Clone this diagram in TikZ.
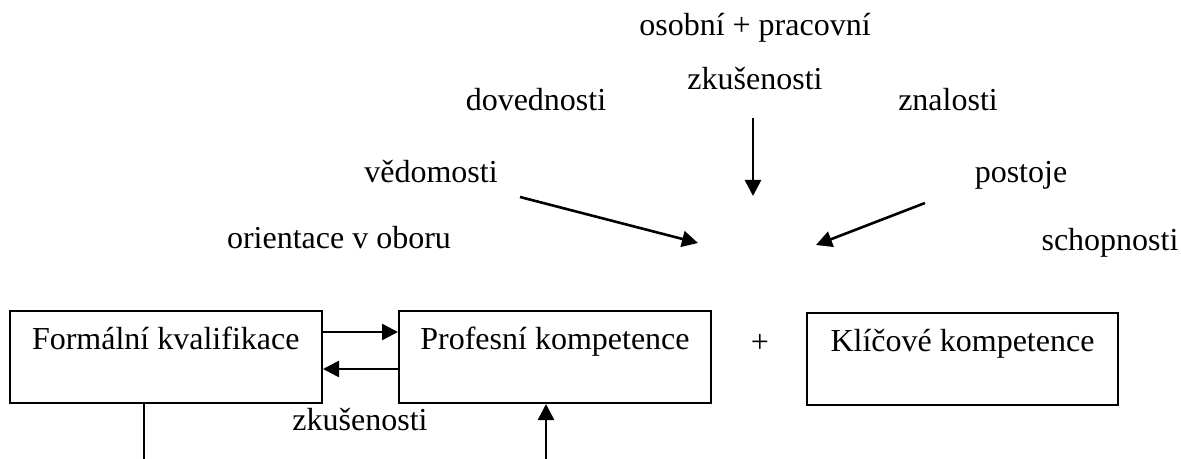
\documentclass[tikz,border=0pt]{standalone}
\usepackage{fontspec}
\setmainfont{Liberation Serif}
\usetikzlibrary{arrows.meta}
\begin{document}
\begin{tikzpicture}[x=0.5pt,y=-0.5pt,
  every node/.style={font=\fontsize{16}{19}\selectfont},
  box/.style={draw, line width=1pt, inner xsep=0pt, inner ysep=0pt, text height=19.5pt, text depth=26.5pt, anchor=base},
  lbl/.style={anchor=base, inner sep=0pt},
  arr/.style={line width=1.3pt, -{Triangle[length=8pt,width=8pt]}},
  ln/.style={line width=1.3pt}]
\useasboundingbox (0,0) rectangle (1181,459);
% boxes
\node[box, minimum width=156.25pt] (b1) at (165.75,350) {Formální kvalifikace};
\node[box, minimum width=156pt] (b2) at (555,350) {Profesní kompetence};
\node[box, minimum width=155.5pt] (b3) at (962.5,351.5) {Klíčové kompetence};
\node[lbl] (plus) at (760,352) {+};
% top labels
\node[lbl] (t1) at (755,36) {osobní + pracovní};
\node[lbl] (t2) at (755,90) {zkušenosti};
\node[lbl] (t3) at (536,111) {dovednosti};
\node[lbl] (t4) at (948,111) {znalosti};
\node[lbl] (t5) at (431,183) {vědomosti};
\node[lbl] (t6) at (1021,183) {postoje};
\node[lbl] (t7) at (339,249) {orientace v oboru};
\node[lbl] (t8) at (1110,251) {schopnosti};
\node[lbl] (t9) at (360,430) {zkušenosti};
% free ends
\coordinate (d1s) at (753,118);
\coordinate (d1e) at (753,196);
\coordinate (v1s) at (520,197);
\coordinate (v1e) at (698,243);
\coordinate (p1s) at (925,203);
\coordinate (p1e) at (816,245);
\coordinate (l1e) at (144,459);
\coordinate (u1s) at (546,459);
% connectors
\draw[arr] (b1.east |- 0,332) -- (b2.west |- 0,332);
\draw[arr] (b2.west |- 0,369) -- (b1.east |- 0,369);
\draw[ln] (b1.south -| l1e) -- (l1e);
\draw[arr] (u1s) -- (b2.south -| u1s);
\draw[arr] (d1s) -- (d1e);
\draw[arr] (v1s) -- (v1e);
\draw[arr] (p1s) -- (p1e);
\end{tikzpicture}
\end{document}
